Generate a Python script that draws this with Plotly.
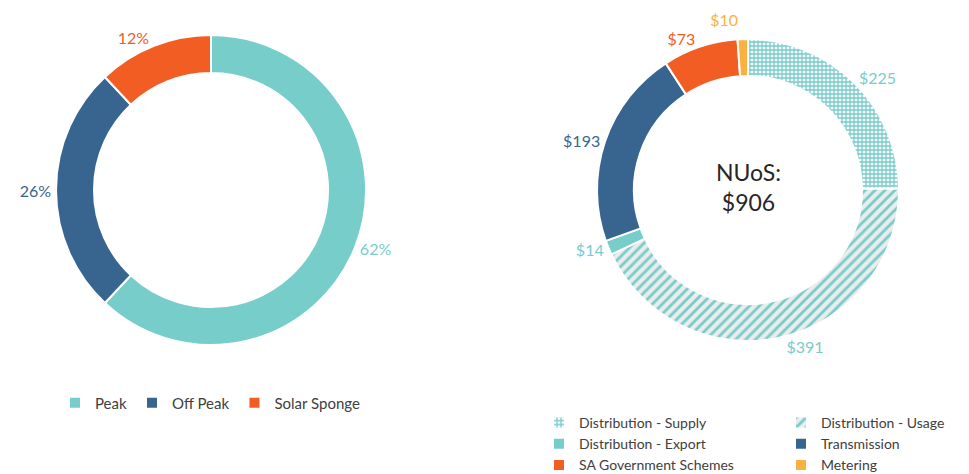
import plotly.graph_objects as go

# ---- data ----
left_labels = ["Peak", "Off Peak", "Solar Sponge"]
left_values = [62, 26, 12]
left_colors = ["#76CDCA", "#38658F", "#F15D22"]

right_labels = ["Distribution - Supply", "Distribution - Usage", "Distribution - Export",
                "Transmission", "SA Government Schemes", "Metering"]
right_values = [225, 391, 14, 193, 73, 10]
right_colors = ["#76CDCA", "#76CDCA", "#76CDCA", "#38658F", "#F15D22", "#FBB040"]
right_patterns = ["+", "/", "", "", "", ""]
right_pat_bg = ["#FFFFFF", "#ECECEC", "#76CDCA", "#38658F", "#F15D22", "#FBB040"]
center_text = "NUoS:<br>$906"

# the page body has an 8px margin, so the figure is made 8px smaller
OFF = 8
W, H = 969 - OFF, 474 - OFF
FONT = "Lato"

def px_dom(x0, x1, y0, y1):
    # screen pixel box -> paper domain
    return dict(x=[(x0 - OFF) / W, (x1 - OFF) / W], y=[1 - (y1 - OFF) / H, 1 - (y0 - OFF) / H])

def px_x(x):
    return (x - OFF) / W

def px_y(y):
    return 1 - (y - OFF) / H

fig = go.Figure()

fig.add_trace(go.Pie(
    labels=left_labels, values=left_values,
    hole=0.755, sort=False, direction="clockwise", rotation=0,
    marker=dict(colors=left_colors, line=dict(color="white", width=2)),
    textposition="outside", texttemplate="%{value}%",
    textfont=dict(color=left_colors, size=16, family=FONT),
    domain=px_dom(56, 366, 35, 345),
    legend="legend", hoverinfo="label+value",
))

fig.add_trace(go.Pie(
    labels=right_labels, values=right_values, customdata=right_colors,
    hole=0.755, sort=False, direction="clockwise", rotation=0,
    marker=dict(colors=right_colors, line=dict(color="white", width=2),
                pattern=dict(shape=right_patterns, fgcolor=right_colors,
                             bgcolor=right_pat_bg, size=[4, 7, 8, 8, 8, 8],
                             solidity=[0.55, 0.4, 0.3, 0.3, 0.3, 0.3])),
    textposition="outside",
    texttemplate='<span style="color:%{customdata};fill-opacity:1">$%{value}</span>',
    outsidetextfont=dict(color="white", size=16, family=FONT),
    domain=px_dom(597, 899, 39, 341),
    legend="legend2", hoverinfo="label+value",
))

fig.add_annotation(text=center_text, x=px_x(748), y=px_y(187), xref="paper", yref="paper",
                   xanchor="center", yanchor="middle",
                   showarrow=False, font=dict(size=23, color="#262626", family=FONT))

fig.update_layout(
    width=W, height=H,
    margin=dict(l=0, r=0, t=0, b=0, autoexpand=False),
    paper_bgcolor="white", plot_bgcolor="white",
    font=dict(family=FONT, color="#404040"),
    legend=dict(orientation="h", x=px_x(55), xanchor="left", y=px_y(403), yanchor="middle",
                font=dict(size=15, family=FONT, color="#404040")),
    legend2=dict(orientation="h", x=px_x(1023), xanchor="right", y=px_y(407), yanchor="top",
                 entrywidth=197, entrywidthmode="pixels",
                 font=dict(size=14, family=FONT, color="#404040")),
)

fig.write_html("out.html")
